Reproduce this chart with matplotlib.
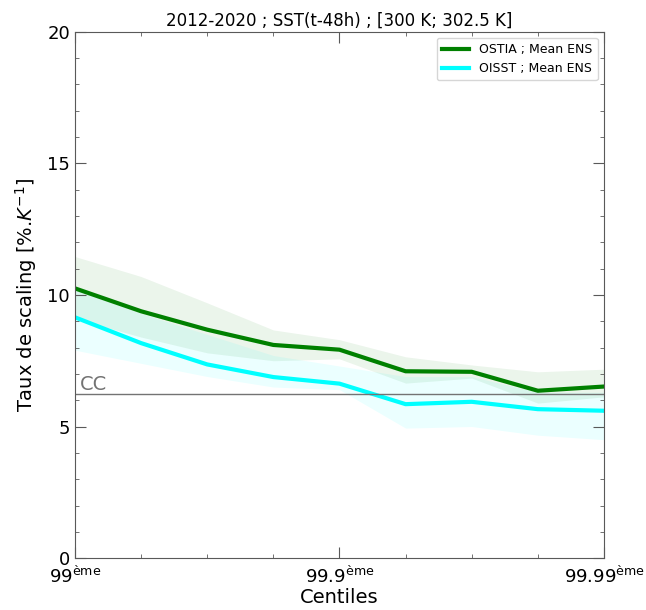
"""Scaling rate vs extreme precipitation centiles - OSTIA vs OISST."""

import matplotlib
matplotlib.use('Agg')
import matplotlib.pyplot as plt
from matplotlib.ticker import MultipleLocator

# x positions are -log10(1 - q), q = centile
x_pos = [2.0, 2.25, 2.5, 2.75, 3.0, 3.25, 3.5, 3.75, 4.0]
x_ticks = [2.0, 3.0, 4.0]
x_labels = ['99$^{\\mathrm{ème}}$', '99.9$^{\\mathrm{ème}}$', '99.99$^{\\mathrm{ème}}$']

ostia_mean = [10.25, 9.38, 8.68, 8.10, 7.92, 7.10, 7.08, 6.36, 6.52]
ostia_hi = [11.46, 10.70, 9.70, 8.67, 8.30, 7.65, 7.34, 7.08, 7.18]
ostia_lo = [9.10, 8.40, 7.80, 7.50, 7.57, 6.65, 6.84, 5.89, 6.13]

oisst_mean = [9.15, 8.17, 7.36, 6.88, 6.63, 5.85, 5.94, 5.66, 5.60]
oisst_hi = [10.20, 9.30, 8.50, 7.70, 7.30, 6.90, 6.90, 6.30, 6.30]
oisst_lo = [7.90, 7.40, 6.90, 6.50, 6.40, 4.94, 5.00, 4.67, 4.50]

cc_rate = 6.22

# Initialize plot
fig = plt.figure(figsize=(6.46, 6.10), dpi=100)
ax = fig.add_axes([0.116, 0.085, 0.819, 0.863])

ax.fill_between(x_pos, ostia_lo, ostia_hi, color='green', alpha=0.08, lw=0)
ax.fill_between(x_pos, oisst_lo, oisst_hi, color='cyan', alpha=0.08, lw=0)
ax.plot(x_pos, ostia_mean, color='green', lw=3, label='OSTIA ; Mean ENS')
ax.plot(x_pos, oisst_mean, color='cyan', lw=3, label='OISST ; Mean ENS')

# Clausius-Clapeyron reference
ax.axhline(cc_rate, color='0.45', lw=1)
ax.text(2.02, cc_rate + 0.02, 'CC', color='0.45', fontsize=14, va='bottom')

# Set plot limits and ticks
ax.set_xlim(2, 4)
ax.set_ylim(0, 20)
ax.set_xticks(x_ticks)
ax.set_xticklabels(x_labels, fontsize=13)
ax.xaxis.set_minor_locator(MultipleLocator(0.25))
ax.yaxis.set_major_locator(MultipleLocator(5))
ax.yaxis.set_minor_locator(MultipleLocator(1))
ax.tick_params(axis='y', labelsize=13)
ax.tick_params(which='both', direction='in', top=True, right=True, color='0.35')
ax.tick_params(which='major', length=8)
ax.tick_params(which='minor', length=3)
ax.tick_params(axis='x', pad=5)
for sp in ax.spines.values():
    sp.set_color('0.35')

ax.set_title('2012-2020 ; SST(t-48h) ; [300 K; 302.5 K]', fontsize=12, pad=4)
ax.set_xlabel('Centiles', fontsize=14, labelpad=1)
ax.set_ylabel('Taux de scaling [%.$K^{-1}$]', fontsize=14, labelpad=6)

ax.legend(loc='upper right', fontsize=9, handlelength=2.2)

plt.savefig('out.png', dpi=100)
